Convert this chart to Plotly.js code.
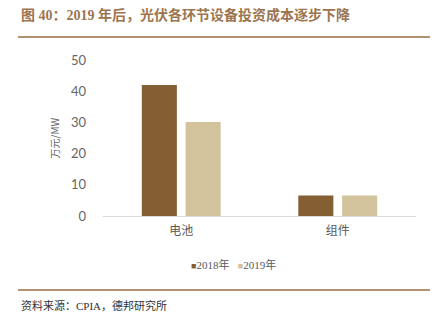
<!DOCTYPE html>
<html><head><meta charset="utf-8">
<script src="https://cdn.plot.ly/plotly-3.0.1.min.js"></script>
<style>html,body{margin:0;padding:0;background:#fff}#c{width:442px;height:322px}</style>
</head><body><div id="c"></div>
<script>
const categories = ['电池', '组件'];
const series2018 = [42, 6.6];
const series2019 = [30.1, 6.6];
const seriesNames = ['2018年', '2019年'];
const yTicks = [0, 10, 20, 30, 40, 50];

const colors = ['#845f33', '#d3c39d'];
const data = [
  {type:'bar', x:categories, y:series2018, name:seriesNames[0], marker:{color:colors[0]}, hoverinfo:'none'},
  {type:'bar', x:categories, y:series2019, name:seriesNames[1], marker:{color:colors[1]}, hoverinfo:'none'}
];
const L = 103, R = 416, T = 60, B = 216, W = 442, H = 322;
const px = x => (x - L) / (R - L);
const py = y => (B - y) / (B - T);
const legendText = seriesNames.map((n, i) =>
  '<span style="color:' + colors[i] + ';font-size:9px">■</span>' + n).join('&nbsp;&nbsp;&nbsp;');
const layout = {
  width: W, height: H,
  margin: {l: L, r: W - R, t: T, b: H - B},
  paper_bgcolor: '#fff', plot_bgcolor: '#fff',
  showlegend: false,
  barmode: 'group', bargap: 0.44, bargroupgap: 0.2,
  font: {family: 'Lato, "Noto Sans CJK SC", sans-serif', color: '#595959'},
  xaxis: {showgrid:false, showline:true, linecolor:'#d9d9d9', linewidth:1, ticks:'',
          tickfont:{size:12, family:'"Noto Sans CJK SC", sans-serif', color:'#595959'}, ticklabelstandoff: 4},
  yaxis: {range:[0, 50], tickvals: yTicks, showgrid:false, zeroline:false, showline:false, ticks:'',
          tickfont:{size:13, color:'#666666'}, ticklabelstandoff: 16,
          title:{text:'万元/MW', font:{size:10, color:'#666666', family:'"Noto Sans CJK SC", sans-serif'}, standoff: 9}},
  shapes: [
    {type:'line', xref:'paper', yref:'paper', x0:px(18), x1:px(430), y0:py(37), y1:py(37), line:{color:'#b39272', width:2}},
    {type:'line', xref:'paper', yref:'paper', x0:px(18), x1:px(430), y0:py(290), y1:py(290), line:{color:'#b39272', width:2}}
  ],
  annotations: [
    {xref:'paper', yref:'paper', x:px(19), y:py(15), xanchor:'left', yanchor:'middle', showarrow:false,
     text:'<b>图 40：2019 年后，光伏各环节设备投资成本逐步下降</b>',
     font:{size:14, color:'#9b7550', family:'"Liberation Serif", "Noto Sans CJK SC", serif'}},
    {xref:'paper', yref:'paper', x:px(233), y:py(264), xanchor:'center', yanchor:'middle', showarrow:false,
     text: legendText,
     font:{size:11, color:'#595959', family:'"Liberation Serif", "Noto Sans CJK SC", serif'}},
    {xref:'paper', yref:'paper', x:px(19), y:py(305), xanchor:'left', yanchor:'middle', showarrow:false,
     text:'资料来源：CPIA，德邦研究所',
     font:{size:11, color:'#333333', family:'"Liberation Serif", "Noto Sans CJK SC", serif'}}
  ]
};
Plotly.newPlot('c', data, layout, {displayModeBar:false, staticPlot:true});
</script></body></html>
